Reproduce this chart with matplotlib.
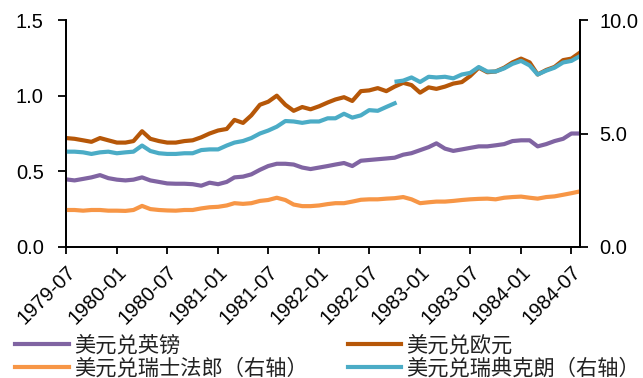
import matplotlib
matplotlib.use('Agg')
import matplotlib.pyplot as plt
import matplotlib.dates as mdates
import pandas as pd

plt.rcParams['font.family'] = ['Liberation Sans', 'Noto Sans CJK SC', 'DejaVu Sans']

# monthly points, 1979-07 .. 1984-08
months = pd.date_range('1979-07-01', periods=62, freq='MS')

gbp = [0.447, 0.44, 0.45, 0.46, 0.475, 0.455, 0.445, 0.44, 0.445, 0.46,
       0.44, 0.43, 0.42, 0.418, 0.418, 0.415, 0.405, 0.425, 0.415, 0.43,
       0.46, 0.465, 0.48, 0.51, 0.535, 0.55, 0.55, 0.545, 0.525, 0.515,
       0.525, 0.535, 0.545, 0.555, 0.535, 0.57, 0.575, 0.58, 0.585, 0.59,
       0.61, 0.62, 0.64, 0.66, 0.685, 0.65, 0.635, 0.645, 0.655, 0.665,
       0.665, 0.672, 0.68, 0.70, 0.705, 0.705, 0.665, 0.68, 0.70, 0.715,
       0.75, 0.75]

eur = [0.72, 0.715, 0.705, 0.695, 0.72, 0.705, 0.69, 0.69, 0.70, 0.765,
       0.715, 0.70, 0.69, 0.69, 0.70, 0.705, 0.725, 0.75, 0.77, 0.78,
       0.84, 0.82, 0.87, 0.94, 0.96, 1.0, 0.94, 0.90, 0.925, 0.91,
       0.93, 0.955, 0.975, 0.99, 0.965, 1.03, 1.035, 1.05, 1.03, 1.06,
       1.085, 1.07, 1.02, 1.055, 1.045, 1.06, 1.08, 1.09, 1.13, 1.185,
       1.155, 1.16, 1.185, 1.22, 1.245, 1.22, 1.14, 1.17, 1.19, 1.235,
       1.245, 1.285]

chf = [1.63, 1.63, 1.60, 1.63, 1.63, 1.60, 1.60, 1.59, 1.63, 1.81,
       1.67, 1.63, 1.61, 1.60, 1.63, 1.63, 1.70, 1.75, 1.77, 1.83,
       1.93, 1.90, 1.93, 2.03, 2.07, 2.17, 2.07, 1.87, 1.80, 1.80,
       1.83, 1.89, 1.93, 1.93, 2.00, 2.08, 2.10, 2.10, 2.13, 2.15,
       2.20, 2.10, 1.93, 1.97, 2.00, 2.00, 2.03, 2.07, 2.10, 2.12,
       2.13, 2.10, 2.17, 2.20, 2.22, 2.17, 2.13, 2.20, 2.23, 2.30,
       2.37, 2.45]

# krona before / after the devaluation of 1982-10-08
sek_before = [4.20, 4.20, 4.17, 4.10, 4.17, 4.20, 4.13, 4.17, 4.20, 4.47,
              4.23, 4.13, 4.10, 4.10, 4.13, 4.13, 4.27, 4.30, 4.30, 4.47,
              4.60, 4.67, 4.80, 5.00, 5.13, 5.30, 5.55, 5.53, 5.47, 5.53,
              5.53, 5.67, 5.67, 5.87, 5.70, 5.80, 6.03, 6.00, 6.17, 6.33]
sek_after = [7.29, 7.33, 7.47, 7.27, 7.50, 7.47, 7.50, 7.43, 7.60, 7.67, 7.93,
             7.73, 7.73, 7.87, 8.07, 8.20, 8.00, 7.60, 7.77, 7.90, 8.13,
             8.20, 8.41]
sek_after_dates = [pd.Timestamp('1982-10-08')] + list(months[40:])

labels = ['美元兑英镑', '美元兑欧元', '美元兑瑞士法郎（右轴）', '美元兑瑞典克朗（右轴）']
colors = ['#8064A2', '#B65708', '#F79646', '#4BACC6']
lw = 3.0

fig = plt.figure(figsize=(6.43, 3.78), dpi=100)
ax = fig.add_axes([0.1026, 0.3466, 0.7994, 0.6004])
ax2 = ax.twinx()

l1, = ax.plot(months, gbp, color=colors[0], lw=lw, label=labels[0])
l2, = ax.plot(months, eur, color=colors[1], lw=lw, label=labels[1])
l3, = ax2.plot(months, chf, color=colors[2], lw=lw, label=labels[2])
l4, = ax2.plot(months[:40], sek_before, color=colors[3], lw=lw, label=labels[3])
ax2.plot(sek_after_dates, sek_after, color=colors[3], lw=lw)

ax.set_ylim(0, 1.5)
ax.set_yticks([0, 0.5, 1.0, 1.5])
ax.set_yticklabels(['0.0', '0.5', '1.0', '1.5'])
ax2.set_ylim(0, 10)
ax2.set_yticks([0, 5, 10])
ax2.set_yticklabels(['0.0', '5.0', '10.0'])

ax.set_xlim(months[0], months[-1])
ticks = pd.date_range('1979-07-01', '1984-07-01', freq='6MS')
ax.set_xticks(ticks)
ax.xaxis.set_major_formatter(mdates.DateFormatter('%Y-%m'))
for lab in ax.get_xticklabels():
    lab.set_rotation(45)
    lab.set_ha('right')
    lab.set_rotation_mode('anchor')

for a in (ax, ax2):
    a.spines['top'].set_visible(False)
    for s in a.spines.values():
        s.set_linewidth(1.3)
        s.set_color('black')
    a.tick_params(labelsize=14.5, length=5, width=1.3, colors='black')
ax.tick_params(axis='x', pad=6)
ax.tick_params(axis='y', length=6, pad=10)
ax2.tick_params(axis='y', length=6, pad=8)

fig.legend([l1, l3, l2, l4], [labels[0], labels[2], labels[1], labels[3]],
           ncol=2, loc='upper left', bbox_to_anchor=(0.024, 0.113),
           frameon=False, fontsize=15.3, handlelength=2.5, handletextpad=0.25,
           columnspacing=1.9, labelspacing=0.1, borderpad=0, borderaxespad=0)
for t in fig.legends[0].get_texts():
    t.set_color('#222222')

fig.savefig('out.png', dpi=100)
